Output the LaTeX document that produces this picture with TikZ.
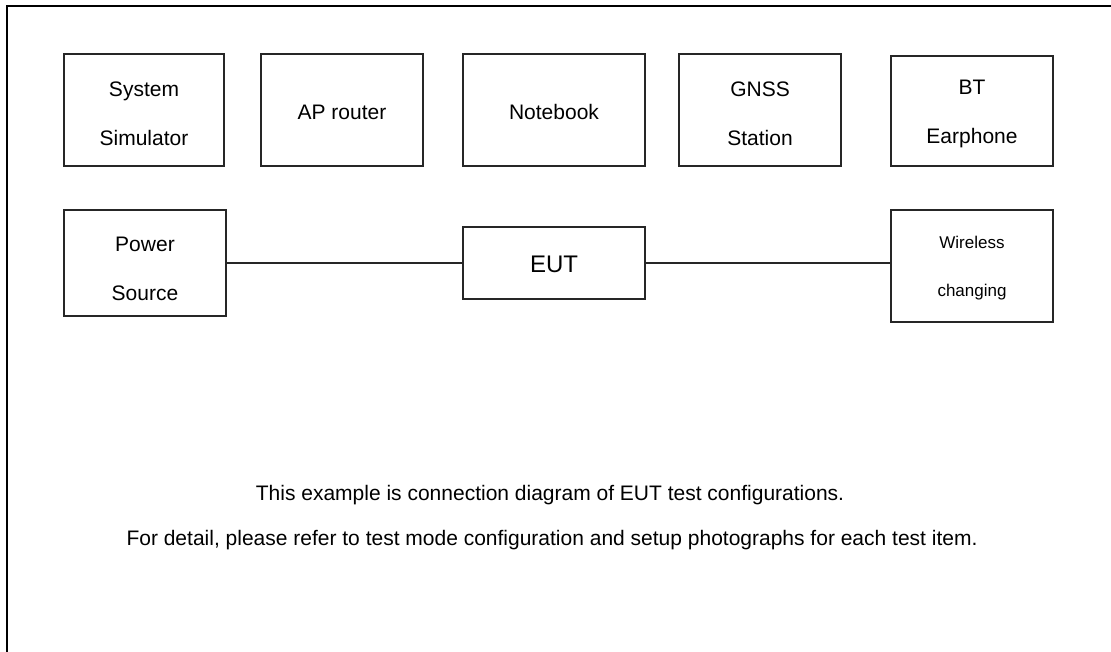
\documentclass[tikz,border=0pt]{standalone}
\usepackage{fontspec}
\setmainfont{Liberation Sans}
\usepackage{xcolor}
\usepackage{tikz}
\usetikzlibrary{arrows.meta}

\begin{document}
\begin{tikzpicture}[x=1pt, y=-1pt,
    equipo/.style={draw=black!85, line width=1.1pt, inner sep=0pt},
    rotulo/.style={align=center, inner sep=0pt, font=\fontsize{21}{49}\selectfont},
    nota/.style={font=\fontsize{21}{25}\selectfont, inner sep=0pt}]
                \useasboundingbox (0,0) rectangle (1111,652);
                % Marco
                \draw[line width=2.8pt, line cap=rect] (7,652) -- (7,6) -- (1111,6);
                % Fila superior
                \node[equipo, minimum width=160pt, minimum height=112pt] (sim) at (144,110) {};
                \node[rotulo] (sim-t) at ([yshift=-3.5pt]sim.center) {System\\Simulator};
                \node[equipo, minimum width=162pt, minimum height=112pt] (ap) at (342,110) {};
                \node[rotulo] (ap-t) at ([yshift=-2pt]ap.center) {AP router};
                \node[equipo, minimum width=182pt, minimum height=112pt] (nb) at (554,110) {};
                \node[rotulo] (nb-t) at ([yshift=-2pt]nb.center) {Notebook};
                \node[equipo, minimum width=162pt, minimum height=112pt] (gnss) at (760,110) {};
                \node[rotulo] (gnss-t) at ([yshift=-3.5pt]gnss.center) {GNSS\\Station};
                \node[equipo, minimum width=162pt, minimum height=110pt] (bt) at (972,111) {};
                \node[rotulo] (bt-t) at ([yshift=-3pt]bt.center) {BT\\Earphone};
                % Fila inferior
                \node[equipo, minimum width=162pt, minimum height=106pt] (pwr) at (145,263) {};
                \node[rotulo] (pwr-t) at ([yshift=-5.5pt]pwr.center) {Power\\Source};
                \node[equipo, minimum width=182pt, minimum height=72pt] (eut) at (554,263) {};
                \node[rotulo, font=\fontsize{24}{28}\selectfont] (eut-t) at ([yshift=-1pt]eut.center) {EUT};
                \node[equipo, minimum width=162pt, minimum height=112pt] (wl) at (972,266) {};
                \node[rotulo, font=\fontsize{17}{48}\selectfont] (wl-t) at ([yshift=-2.5pt]wl.center) {Wireless\\changing};
                % Cables
                \draw[line width=1.1pt, black!85] (pwr.east) -- (eut.west);
                \draw[line width=1.1pt, black!85] (eut.east) -- (eut.east -| wl.west);
                % Notas
                \node[nota] (nota1) at (550,495) {This example is connection diagram of EUT test configurations.};
                \node[nota] (nota2) at (552,540) {For detail, please refer to test mode configuration and setup photographs for each test item.};
            \end{tikzpicture}
\end{document}
